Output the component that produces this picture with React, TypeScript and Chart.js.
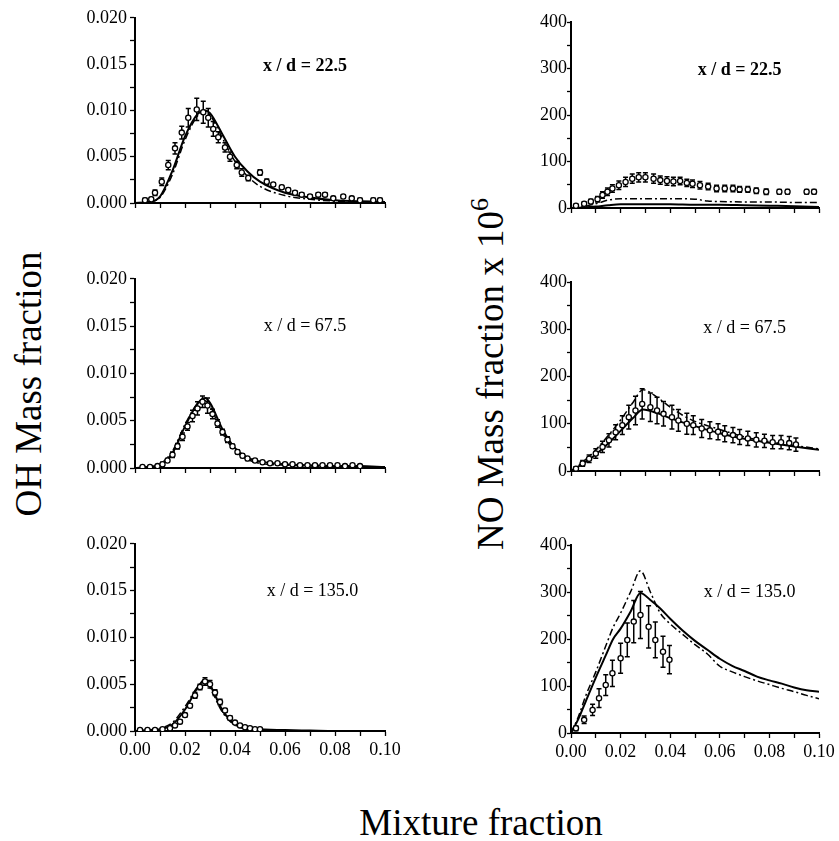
import React, { useEffect, useRef } from "react";
import { Chart, registerables } from "chart.js";
Chart.register(...registerables);

// ---------------- tick / label texts ----------------
const panelLabels = ["x / d = 22.5", "x / d = 67.5", "x / d = 135.0"];
const ohAxisTitle = "OH Mass fraction";
const noAxisTitle = "NO Mass fraction x 10";
const noAxisExp = "6";
const xAxisTitle = "Mixture fraction";

// ---------------- OH, x/d = 22.5 ----------------
const ohExpZ_22 = [0.004, 0.0065, 0.008, 0.0107, 0.0133, 0.016, 0.0187, 0.0213, 0.0247, 0.0273, 0.0293, 0.0313, 0.0333, 0.036, 0.038, 0.0407, 0.0427, 0.0453, 0.05, 0.0527, 0.0553, 0.0587, 0.0613, 0.064, 0.0667, 0.07, 0.0733, 0.076, 0.0793, 0.0833, 0.0867, 0.09, 0.0953, 0.098];
const ohExpY_22 = [0.0003, 0.0004, 0.0011, 0.0023, 0.0041, 0.0059, 0.0076, 0.0092, 0.0101, 0.0098, 0.0092, 0.008, 0.0071, 0.006, 0.005, 0.0041, 0.0033, 0.0027, 0.0033, 0.0023, 0.002, 0.0017, 0.0014, 0.0011, 0.0009, 0.0007, 0.0009, 0.0009, 0.0005, 0.0007, 0.0005, 0.0003, 0.0003, 0.0003];
const ohExpErr_22 = [0.0002, 0.0002, 0.0003, 0.0004, 0.0005, 0.0006, 0.0007, 0.001, 0.0012, 0.0012, 0.001, 0.0008, 0.0006, 0.0005, 0.0005, 0.0004, 0.0004, 0.0003, 0.0003, 0.0003, 0.0002, 0.0002, 0.0002, 0.0002, 0.0002, 0.0002, 0.0002, 0.0002, 0.0002, 0.0002, 0.0002, 0.0002, 0.0002, 0.0002];
const ohModelZ_22 = [0, 0.005, 0.01, 0.015, 0.02, 0.025, 0.028, 0.03, 0.035, 0.04, 0.045, 0.05, 0.06, 0.07, 0.08, 0.09, 0.1];
const ohSolid_22 = [0, 0.0001, 0.0007, 0.0035, 0.0072, 0.0096, 0.01, 0.0097, 0.0074, 0.005, 0.0034, 0.0023, 0.0011, 0.0006, 0.0003, 0.0002, 0.0001];
const ohDash_22 = [0, 0.0001, 0.0006, 0.0031, 0.0068, 0.0094, 0.0099, 0.0095, 0.007, 0.0045, 0.0029, 0.0018, 0.0008, 0.0004, 0.0002, 0.0001, 0.0001];

// ---------------- OH, x/d = 67.5 ----------------
const ohExpZ_67 = [0.003, 0.006, 0.009, 0.011, 0.013, 0.015, 0.017, 0.019, 0.021, 0.023, 0.025, 0.027, 0.029, 0.031, 0.033, 0.035, 0.037, 0.039, 0.041, 0.043, 0.045, 0.048, 0.051, 0.054, 0.057, 0.06, 0.063, 0.066, 0.069, 0.072, 0.075, 0.078, 0.081, 0.084, 0.087, 0.09];
const ohExpY_67 = [0.0001, 0.0001, 0.0002, 0.0004, 0.0008, 0.0014, 0.0023, 0.0033, 0.0044, 0.0055, 0.0063, 0.007, 0.0066, 0.0057, 0.0047, 0.0038, 0.003, 0.0023, 0.0017, 0.0013, 0.001, 0.0008, 0.0006, 0.0005, 0.0005, 0.0004, 0.0004, 0.0003, 0.0003, 0.0003, 0.0003, 0.0003, 0.0003, 0.0002, 0.0003, 0.0002];
const ohExpErr_67 = [0.0001, 0.0001, 0.0001, 0.0002, 0.0002, 0.0003, 0.0003, 0.0004, 0.0004, 0.0006, 0.0007, 0.0006, 0.0008, 0.0005, 0.0004, 0.0003, 0.0003, 0.0002, 0.0002, 0.0002, 0.0002, 0.0001, 0.0001, 0.0001, 0.0001, 0.0001, 0.0001, 0.0001, 0.0001, 0.0001, 0.0001, 0.0001, 0.0001, 0.0001, 0.0001, 0.0001];
const ohModelZ_67 = [0, 0.005, 0.01, 0.015, 0.02, 0.025, 0.028, 0.03, 0.035, 0.04, 0.045, 0.05, 0.06, 0.07, 0.08, 0.09, 0.1];
const ohSolid_67 = [0, 0.0001, 0.0003, 0.0016, 0.0044, 0.0068, 0.0074, 0.0069, 0.0041, 0.0021, 0.0011, 0.0007, 0.0004, 0.0003, 0.0002, 0.0002, 0.0001];
const ohDash_67 = [0, 0.0001, 0.0004, 0.0018, 0.0046, 0.0068, 0.0071, 0.0065, 0.0037, 0.0018, 0.0009, 0.0005, 0.0003, 0.0002, 0.0001, 0.0001, 0.0001];

// ---------------- OH, x/d = 135.0 ----------------
const ohExpZ_135 = [0.002, 0.005, 0.008, 0.011, 0.014, 0.016, 0.018, 0.02, 0.022, 0.024, 0.026, 0.028, 0.03, 0.032, 0.034, 0.036, 0.038, 0.04, 0.042, 0.044, 0.046, 0.048, 0.05];
const ohExpY_135 = [0.0001, 0.0001, 0.0001, 0.0002, 0.0003, 0.0006, 0.001, 0.0017, 0.0027, 0.0038, 0.0047, 0.0053, 0.005, 0.0041, 0.0031, 0.0022, 0.0014, 0.0009, 0.0006, 0.0004, 0.0003, 0.0002, 0.0002];
const ohExpErr_135 = [0.0001, 0.0001, 0.0001, 0.0001, 0.0001, 0.0001, 0.0002, 0.0002, 0.0002, 0.0003, 0.0003, 0.0004, 0.0004, 0.0003, 0.0003, 0.0002, 0.0002, 0.0001, 0.0001, 0.0001, 0.0001, 0.0001, 0.0001];
const ohModelZ_135 = [0, 0.005, 0.01, 0.015, 0.02, 0.025, 0.028, 0.03, 0.035, 0.04, 0.045, 0.05, 0.06, 0.07, 0.08, 0.09, 0.1];
const ohSolid_135 = [0, 0.0001, 0.0002, 0.0007, 0.0023, 0.0046, 0.0055, 0.0049, 0.0022, 0.0007, 0.0003, 0.0002, 0.0001, 0.00005, 0, 0, 0];
const ohDash_135 = [0, 0.0001, 0.0003, 0.0009, 0.0026, 0.0047, 0.0053, 0.0046, 0.002, 0.0006, 0.0002, 0.0001, 0.00005, 0, 0, 0, 0];

// ---------------- NO x 1e6, x/d = 22.5 ----------------
const noExpZ_22 = [0.002, 0.0053, 0.008, 0.0107, 0.0127, 0.0147, 0.0167, 0.0193, 0.022, 0.0247, 0.0273, 0.03, 0.0333, 0.036, 0.0387, 0.0413, 0.044, 0.0467, 0.049, 0.052, 0.0553, 0.0587, 0.062, 0.0653, 0.068, 0.0713, 0.0747, 0.0787, 0.084, 0.0873, 0.095, 0.098];
const noExpY_22 = [5, 9, 14, 19, 28, 35, 42, 49, 56, 63, 66, 66, 63, 60, 58, 57, 58, 54, 52, 49, 46, 42, 42, 42, 40, 40, 37, 35, 35, 35, 35, 35];
const noExpErr_22 = [3, 4, 5, 6, 7, 8, 8, 9, 10, 10, 10, 10, 10, 9, 9, 9, 8, 8, 8, 8, 7, 7, 7, 7, 6, 6, 6, 6, 5, 5, 5, 5];
const noModelZ_22 = [0, 0.005, 0.01, 0.015, 0.02, 0.03, 0.04, 0.05, 0.055, 0.06, 0.07, 0.08, 0.09, 0.1];
const noSolid_22 = [0, 1, 3, 6, 8, 8, 8, 7, 7, 7, 6, 5, 4, 2];
const noDash_22 = [0, 3, 9, 17, 20, 20, 20, 19, 15, 14, 13, 13, 12, 12];

// ---------------- NO x 1e6, x/d = 67.5 ----------------
const noExpZ_67 = [0.002, 0.0047, 0.0073, 0.01, 0.0127, 0.0153, 0.018, 0.0207, 0.0233, 0.026, 0.0287, 0.032, 0.0347, 0.0373, 0.0407, 0.0433, 0.0467, 0.0493, 0.0527, 0.056, 0.0593, 0.062, 0.0653, 0.068, 0.0713, 0.0747, 0.078, 0.0813, 0.0847, 0.088, 0.0907];
const noExpY_67 = [5, 16, 26, 37, 51, 65, 82, 97, 114, 128, 142, 135, 128, 121, 114, 107, 100, 97, 90, 86, 83, 79, 76, 72, 69, 66, 64, 61, 61, 59, 56];
const noExpErr_67 = [4, 6, 8, 10, 12, 14, 16, 20, 25, 30, 32, 30, 28, 26, 25, 23, 22, 20, 19, 18, 17, 17, 16, 16, 15, 15, 14, 14, 14, 14, 14];
const noModelZ_67 = [0, 0.005, 0.01, 0.015, 0.02, 0.025, 0.029, 0.035, 0.04, 0.045, 0.05, 0.06, 0.07, 0.08, 0.09, 0.1];
const noSolid_67 = [0, 16, 35, 58, 85, 112, 130, 122, 112, 103, 95, 80, 68, 60, 52, 45];
const noDash_67 = [0, 20, 45, 75, 108, 145, 172, 155, 135, 118, 105, 88, 72, 62, 54, 47];

// ---------------- NO x 1e6, x/d = 135.0 ----------------
const noExpZ_135 = [0.002, 0.0053, 0.0087, 0.0113, 0.014, 0.0167, 0.02, 0.0227, 0.0253, 0.028, 0.0313, 0.034, 0.0371, 0.0397];
const noExpY_135 = [10, 28, 49, 74, 102, 127, 159, 198, 237, 251, 226, 198, 173, 156];
const noExpErr_135 = [5, 8, 12, 20, 22, 28, 32, 36, 45, 50, 45, 38, 33, 30];
const noModelZ_135 = [0, 0.003, 0.006, 0.01, 0.014, 0.017, 0.02, 0.024, 0.028, 0.032, 0.036, 0.04, 0.045, 0.05, 0.055, 0.06, 0.065, 0.07, 0.075, 0.08, 0.085, 0.09, 0.095, 0.1];
const noSolid_135 = [0, 30, 68, 118, 165, 200, 222, 258, 298, 283, 265, 243, 218, 196, 177, 158, 143, 132, 120, 112, 105, 97, 91, 88];
const noDash_135 = [0, 35, 80, 130, 185, 225, 255, 300, 345, 300, 255, 232, 210, 188, 168, 142, 130, 120, 111, 103, 95, 88, 80, 73];

// ---------------- layout (page pixels of each plot area) ----------------
const PT = 12;
const PR = 24;
const FONT = '"Liberation Serif", "Times New Roman", serif';

type PanelCfg = {
  kind: "OH" | "NO";
  area: [number, number, number, number];
  xLabels: boolean;
  expZ: number[]; expY: number[]; expErr: number[];
  modelZ: number[]; solid: number[]; dash: number[];
  label: string; lx: number; ly: number; bold: boolean;
};

const panels: PanelCfg[] = [
  { kind: "OH", area: [135, 16, 385, 203], xLabels: false, expZ: ohExpZ_22, expY: ohExpY_22, expErr: ohExpErr_22, modelZ: ohModelZ_22, solid: ohSolid_22, dash: ohDash_22, label: panelLabels[0], lx: 0.68, ly: 0.26, bold: true },
  { kind: "OH", area: [135, 277, 385, 468], xLabels: false, expZ: ohExpZ_67, expY: ohExpY_67, expErr: ohExpErr_67, modelZ: ohModelZ_67, solid: ohSolid_67, dash: ohDash_67, label: panelLabels[1], lx: 0.68, ly: 0.25, bold: false },
  { kind: "OH", area: [135, 542, 385, 731], xLabels: true, expZ: ohExpZ_135, expY: ohExpY_135, expErr: ohExpErr_135, modelZ: ohModelZ_135, solid: ohSolid_135, dash: ohDash_135, label: panelLabels[2], lx: 0.71, ly: 0.255, bold: false },
  { kind: "NO", area: [571, 22, 819, 208], xLabels: false, expZ: noExpZ_22, expY: noExpY_22, expErr: noExpErr_22, modelZ: noModelZ_22, solid: noSolid_22, dash: noDash_22, label: panelLabels[0], lx: 0.68, ly: 0.26, bold: true },
  { kind: "NO", area: [571, 282, 819, 471], xLabels: false, expZ: noExpZ_67, expY: noExpY_67, expErr: noExpErr_67, modelZ: noModelZ_67, solid: noSolid_67, dash: noDash_67, label: panelLabels[1], lx: 0.70, ly: 0.245, bold: false },
  { kind: "NO", area: [571, 545, 819, 733], xLabels: true, expZ: noExpZ_135, expY: noExpY_135, expErr: noExpErr_135, modelZ: noModelZ_135, solid: noSolid_135, dash: noDash_135, label: panelLabels[2], lx: 0.72, ly: 0.25, bold: false },
];

const errorBarPlugin = {
  id: "errorBars",
  beforeDatasetsDraw(chart: any) {
    const { ctx, chartArea } = chart;
    const xs = chart.scales.x;
    const ys = chart.scales.y;
    chart.data.datasets.forEach((ds: any) => {
      if (!ds.errors) return;
      ctx.save();
      ctx.beginPath();
      ctx.rect(chartArea.left, chartArea.top - 10, chartArea.right - chartArea.left, chartArea.bottom - chartArea.top + 10);
      ctx.clip();
      ctx.strokeStyle = "#000";
      ctx.lineWidth = 1.5;
      ds.data.forEach((p: any, j: number) => {
        const e = ds.errors[j];
        if (!e) return;
        const px = xs.getPixelForValue(p.x);
        const y1 = ys.getPixelForValue(p.y + e);
        const y2 = ys.getPixelForValue(p.y - e);
        ctx.beginPath();
        ctx.moveTo(px, y1); ctx.lineTo(px, y2);
        ctx.moveTo(px - 2.5, y1); ctx.lineTo(px + 2.5, y1);
        ctx.moveTo(px - 2.5, y2); ctx.lineTo(px + 2.5, y2);
        ctx.stroke();
      });
      ctx.restore();
    });
  },
};

const panelLabelPlugin = {
  id: "panelLabel",
  afterDraw(chart: any, _args: any, opts: any) {
    const { ctx, chartArea } = chart;
    ctx.save();
    ctx.font = opts.font;
    ctx.fillStyle = "#000";
    ctx.textAlign = "center";
    ctx.textBaseline = "middle";
    const x = chartArea.left + opts.fx * (chartArea.right - chartArea.left);
    const y = chartArea.top + opts.fy * (chartArea.bottom - chartArea.top);
    ctx.fillText(opts.text, x, y);
    ctx.restore();
  },
};

function dims(p: PanelCfg) {
  const yw = p.kind === "OH" ? 70 : 60;
  const xh = p.xLabels ? 34 : 14;
  const [l, t, r, b] = p.area;
  return { yw, xh, left: l - yw, top: t - PT, width: yw + (r - l) + PR, height: PT + (b - t) + xh };
}

function buildConfig(p: PanelCfg): any {
  const isOH = p.kind === "OH";
  const { yw, xh } = dims(p);
  const tickFont = { family: FONT, size: 18 };
  return {
    type: "line",
    data: {
      datasets: [
        {
          label: "experiment",
          data: p.expZ.map((z, i) => ({ x: z, y: p.expY[i] })),
          errors: p.expErr,
          showLine: false,
          pointRadius: 2.6,
          pointBorderWidth: 1.3,
          pointBackgroundColor: "#fff",
          pointBorderColor: "#000",
          order: 0,
        },
        {
          label: "model 1",
          data: p.modelZ.map((z, i) => ({ x: z, y: p.solid[i] })),
          borderColor: "#000",
          borderWidth: 2,
          pointRadius: 0,
          cubicInterpolationMode: "monotone",
          fill: false,
          order: 2,
        },
        {
          label: "model 2",
          data: p.modelZ.map((z, i) => ({ x: z, y: p.dash[i] })),
          borderColor: "#000",
          borderWidth: 1.5,
          borderDash: [7, 3, 2, 3],
          pointRadius: 0,
          cubicInterpolationMode: "monotone",
          fill: false,
          order: 1,
        },
      ],
    },
    options: {
      animation: false,
      responsive: false,
      events: [],
      layout: { padding: { top: PT, right: PR, left: 0, bottom: 0 } },
      plugins: {
        legend: { display: false },
        tooltip: { enabled: false },
        panelLabel: { text: p.label, fx: p.lx, fy: p.ly, font: `${p.bold ? "bold " : ""}18px ${FONT}` },
      },
      scales: {
        x: {
          type: "linear",
          min: 0,
          max: 0.1,
          afterFit: (s: any) => { s.height = xh; },
          ticks: {
            stepSize: 0.01,
            autoSkip: false,
            maxRotation: 0,
            font: tickFont,
            color: "#000",
            padding: 3,
            callback: (v: number) => {
              if (!p.xLabels) return "";
              const k = Math.round(v * 100);
              return k % 2 === 0 ? (k / 100).toFixed(2) : "";
            },
          },
          grid: { drawOnChartArea: false, drawTicks: true, tickLength: 5, tickColor: "#000", tickWidth: 1.3 },
          border: { display: true, color: "#000", width: 2 },
        },
        y: {
          type: "linear",
          min: 0,
          max: isOH ? 0.02 : 400,
          afterFit: (s: any) => { s.width = yw; },
          ticks: {
            stepSize: isOH ? 0.0025 : 50,
            autoSkip: false,
            font: tickFont,
            color: "#000",
            padding: isOH ? 3 : 0,
            callback: (v: number) => {
              if (isOH) {
                const k = Math.round(v / 0.0025);
                return k % 2 === 0 ? (k * 0.0025).toFixed(3) : "";
              }
              const k = Math.round(v / 50);
              return k % 2 === 0 ? String(k * 50) : "";
            },
          },
          grid: { drawOnChartArea: false, drawTicks: true, tickLength: isOH ? 5 : 4, tickColor: "#000", tickWidth: 1.3 },
          border: { display: true, color: "#000", width: 2 },
        },
      },
    },
    plugins: [errorBarPlugin, panelLabelPlugin],
  };
}

function Panel({ p }: { p: PanelCfg }) {
  const ref = useRef<HTMLCanvasElement>(null);
  const d = dims(p);
  useEffect(() => {
    if (!ref.current) return;
    const chart = new Chart(ref.current, buildConfig(p));
    return () => chart.destroy();
  }, []);
  return (
    <canvas
      ref={ref}
      width={d.width}
      height={d.height}
      style={{ position: "absolute", left: d.left, top: d.top, width: d.width, height: d.height }}
    />
  );
}

const bigFont: React.CSSProperties = {
  position: "absolute",
  fontFamily: FONT,
  fontSize: 37,
  lineHeight: 1,
  whiteSpace: "nowrap",
  color: "#000",
};

export default function App() {
  return (
    <div style={{ position: "absolute", left: 0, top: 0, width: 839, height: 841, background: "#fff", overflow: "hidden" }}>
      {panels.map((p, i) => (
        <Panel key={i} p={p} />
      ))}
      <div style={{ ...bigFont, left: 28, top: 384, transform: "translate(-50%, -50%) rotate(-90deg)" }}>{ohAxisTitle}</div>
      <div style={{ ...bigFont, left: 490, top: 374, transform: "translate(-50%, -50%) rotate(-90deg)" }}>
        {noAxisTitle}
        <sup style={{ fontSize: "0.7em", verticalAlign: "0.55em", lineHeight: 0 }}>{noAxisExp}</sup>
      </div>
      <div style={{ ...bigFont, left: 481, top: 822, transform: "translate(-50%, -50%)" }}>{xAxisTitle}</div>
    </div>
  );
}
